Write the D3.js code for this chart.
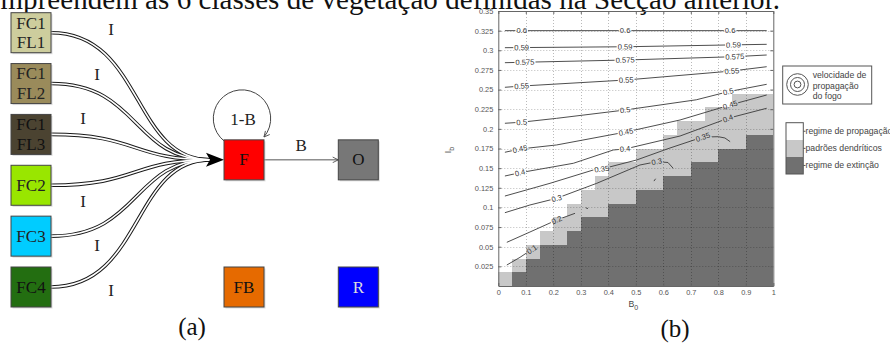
<!DOCTYPE html>
<html><head><meta charset="utf-8">
<script src="https://cdn.jsdelivr.net/npm/d3@7"></script>
<style>body{margin:0;background:#fff;} svg{display:block;}</style>
</head><body>
<script>
// ---------------- DATA ----------------
const topCaption = "compreendem as 6 classes de vegetação definidas na Secção anterior.";

// (a) state diagram
const nodeLines  = [["FC1","FL1"],["FC1","FL2"],["FC1","FL3"],["FC2"],["FC3"],["FC4"],["F"],["O"],["FB"],["R"]];
const nodeCols   = [0,0,0,0,0,0,1,2,1,2];
const nodeRows   = [0,1,2,3,4,5,2.5,2.5,5,5];
const nodeFill   = ["#cdcd9d","#9a8b5b","#4b4331","#99e600","#00ccff","#236e11","#ff0000","#777777","#e66a00","#0000ff"];
const nodeInk    = ["#222","#222","#111","#222","#222","#111","#111","#111","#111","#dddddd"];
const edgeSources = [0,1,2,3,4,5];
const edgeLabel   = "I";
const loopLabel   = "1-B";
const transLabel  = "B";

// (b) regime map: 20 columns of width 0.05 in B0, rows of 0.0175
const colWidth = 0.05, rowHeight = 0.0175;
const extinctionRows = [0,1,2,3,3,4,5,5,6,6,7,7,8,8,9,9,10,10,11,11];
const dendriticRows  = [1,2,3,4,5,6,7,8,9,9,10,10,11,12,12,13,13,14,14,14];

const xTicks = [0,0.1,0.2,0.3,0.4,0.5,0.6,0.7,0.8,0.9,1];
const xTickLabels = ["0","0.1","0.2","0.3","0.4","0.5","0.6","0.7","0.8","0.9","1"];
const yTicks = [0.025,0.05,0.075,0.1,0.125,0.15,0.175,0.2,0.225,0.25,0.275,0.3,0.325,0.35];
const yTickLabels = ["0.025","0.05","0.075","0.1","0.125","0.15","0.175","0.2","0.225","0.25","0.275","0.3","0.325","0.35"];

// contour lines of fire propagation speed
const contourLevels = ["0.1","0.2","0.3","0.35","0.4","0.45","0.5","0.55","0.575","0.59","0.6"];
const contourPoints = [
  [[0.031,0.0267],[0.079,0.0365],[0.122,0.0465]],
  [[0.031,0.0556],[0.115,0.0687],[0.212,0.084],[0.279,0.0925]],
  [[0.024,0.0933],[0.115,0.1031],[0.212,0.1116],[0.358,0.1307],[0.515,0.154],[0.576,0.1582],[0.617,0.1572],[0.636,0.1498]],
  [[0.024,0.1145],[0.188,0.1307],[0.345,0.1476],[0.376,0.1489],[0.503,0.1604],[0.624,0.1756],[0.744,0.1896],[0.8,0.19],[0.824,0.1884],[0.843,0.1837]],
  [[0.024,0.14],[0.079,0.1442],[0.273,0.1562],[0.418,0.1731],[0.461,0.1744],[0.661,0.1909],[0.835,0.2134],[0.976,0.2262]],
  [[0.024,0.1702],[0.079,0.1744],[0.212,0.1795],[0.464,0.196],[0.661,0.2113],[0.843,0.2304],[0.976,0.2431]],
  [[0.024,0.2071],[0.085,0.2085],[0.212,0.2134],[0.461,0.224],[0.72,0.237],[0.836,0.2473],[0.976,0.2567]],
  [[0.024,0.2529],[0.085,0.2545],[0.465,0.2622],[0.849,0.2736],[0.976,0.2791]],
  [[0.024,0.2842],[0.097,0.2848],[0.461,0.2876],[0.855,0.2918],[0.976,0.294]],
  [[0.024,0.3033],[0.461,0.3045],[0.976,0.3076]],
  [[0.024,0.325],[0.976,0.325]]
];
const contourLabelAt = [
  [0.122],[0.212],[0.212,0.576],[0.376,0.744],[0.079,0.461,0.835],[0.079,0.464,0.843],
  [0.085,0.461,0.836],[0.085,0.465,0.849],[0.097,0.461,0.86],[0.085,0.461,0.855],[0.085,0.461,0.843]
];
const contourFragments = [
  [[0.318,0.0995],[0.326,0.0985]],
  [[0.566,0.1335],[0.572,0.1365]]
];

const legendSpeed = ["velocidade de","propagação","do fogo"];
const legendRegimes = ["regime de propagação","padrões dendríticos","regime de extinção"];
const regimeColors = ["#ffffff","#c8c8c8","#707070"];

// ---------------- DRAW ----------------
const W = 890, H = 343;
const serif = "'Liberation Serif','Times New Roman',serif";
const sans = "'Liberation Sans',Arial,sans-serif";
const svg = d3.select("body").append("svg").attr("width", W).attr("height", H);
svg.append("rect").attr("width", W).attr("height", H).attr("fill", "#fff");
const defs = svg.append("defs");

// caption line (cut at top)
svg.append("text").attr("x", -27).attr("y", 8.5)
  .attr("font-family", serif).attr("font-size", 29).attr("fill", "#111")
  .attr("textLength", 807).attr("lengthAdjust", "spacing")
  .text(topCaption);

// ----- (a) -----
const gA = svg.append("g");
const colX = d3.scaleOrdinal().domain([0,1,2]).range([31, 244, 358.3]);
const rowY = d3.scaleLinear().domain([0,5]).range([32.7, 287]);
const box = 40;

defs.append("marker").attr("id","openArrow").attr("viewBox","0 -5 10 10")
  .attr("refX",9).attr("refY",0).attr("markerWidth",7).attr("markerHeight",7)
  .attr("markerUnits","userSpaceOnUse").attr("orient","auto")
  .append("path").attr("d","M1,-4L9,0L1,4").attr("fill","none").attr("stroke","#444").attr("stroke-width",1.2);

const fX = colX(1), fY = rowY(2.5);
function edgePath(r){
  const k = Math.abs(r - 2.5) - 0.5;
  const x0 = colX(0) + box/2, y0 = rowY(r);
  const x3 = fX - box/2 - 14, y3 = fY;
  const p = d3.path();
  p.moveTo(x0, y0);
  p.bezierCurveTo(138 + 2.5*k, y0, 132, y3, x3, y3);
  return p.toString();
}
const edges = gA.append("g");
edges.selectAll("path.outer").data(edgeSources).join("path").attr("class","outer")
  .attr("d", i => edgePath(nodeRows[i])).attr("fill","none").attr("stroke","#1a1a1a").attr("stroke-width",3.6);
edges.selectAll("path.inner").data(edgeSources).join("path").attr("class","inner")
  .attr("d", i => edgePath(nodeRows[i])).attr("fill","none").attr("stroke","#fff").attr("stroke-width",1.6);
// big arrowhead into F
gA.append("path")
  .attr("d", `M${fX-box/2-18},${fY-7}L${fX-box/2},${fY}L${fX-box/2-18},${fY+7}L${fX-box/2-14},${fY}Z`)
  .attr("fill","#000");
// "I" labels
gA.selectAll("text.elab").data(edgeSources).join("text").attr("class","elab")
  .attr("x", i => { const k = Math.abs(nodeRows[i]-2.5)-0.5; return 83 + 14*k; })
  .attr("y", i => { const r = nodeRows[i]; const k = Math.abs(r-2.5)-0.5; return rowY(r) + Math.sign(r-2.5)*(16 - 6.5*k) + 5.5; })
  .attr("text-anchor","middle").attr("font-family",serif).attr("font-size",17).attr("fill","#222")
  .text(edgeLabel);

// self loop on F
{
  const cx = fX - 2, cy = fY - 41.3, r = 28.7;
  const p = d3.path();
  p.arc(cx, cy, r, 128*Math.PI/180, 400*Math.PI/180, false);
  gA.append("path").attr("d", p.toString()).attr("fill","none").attr("stroke","#444").attr("stroke-width",1)
    .attr("marker-end","url(#openArrow)");
  gA.append("text").attr("x", cx + 1).attr("y", cy + 6.5).attr("text-anchor","middle")
    .attr("font-family",serif).attr("font-size",17).attr("fill","#222").text(loopLabel);
}
// F -> O
gA.append("line").attr("x1", fX + box/2).attr("y1", fY).attr("x2", colX(2) - box/2).attr("y2", fY)
  .attr("stroke","#555").attr("stroke-width",1).attr("marker-end","url(#openArrow)");
gA.append("text").attr("x", (fX + colX(2))/2).attr("y", fY - 9).attr("text-anchor","middle")
  .attr("font-family",serif).attr("font-size",17).attr("fill","#222").text(transLabel);

// nodes
const nodes = gA.selectAll("g.node").data(nodeLines.map((l,i)=>i)).join("g").attr("class","node")
  .attr("transform", i => `translate(${colX(nodeCols[i])},${rowY(nodeRows[i])})`);
nodes.append("rect").attr("x",-box/2+1.5).attr("y",-box/2+1.5).attr("width",box).attr("height",box)
  .attr("fill","#bbb").attr("opacity",0.5);
nodes.append("rect").attr("x",-box/2).attr("y",-box/2).attr("width",box).attr("height",box)
  .attr("fill", i => nodeFill[i]).attr("stroke","#444").attr("stroke-width",1);
nodes.each(function(i){
  const g = d3.select(this);
  const lines = nodeLines[i];
  lines.forEach((t, j) => {
    const off = lines.length === 1 ? 0 : (j === 0 ? -9.7 : 9.7);
    g.append("text").attr("x", 0).attr("y", off + 5.6).attr("text-anchor","middle")
      .attr("font-family", serif).attr("font-size", 17).attr("fill", nodeInk[i]).text(t);
  });
});
svg.append("text").attr("x",192).attr("y",335).attr("text-anchor","middle")
  .attr("font-family",serif).attr("font-size",25).attr("fill","#111").text("(a)");

// ----- (b) -----
const x = d3.scaleLinear().domain([0,1]).range([498.3, 773.3]);
const y = d3.scaleLinear().domain([0,0.35]).range([286, 11]);
const gB = svg.append("g");

const cells = [];
extinctionRows.forEach((n, i) => {
  const b0 = i*colWidth, b1 = (i+1)*colWidth;
  if (n > 0) cells.push({b0, b1, lo: 0, hi: n*rowHeight, c: regimeColors[2]});
  cells.push({b0, b1, lo: n*rowHeight, hi: dendriticRows[i]*rowHeight, c: regimeColors[1]});
});
gB.append("g").attr("shape-rendering","crispEdges").selectAll("rect").data(cells).join("rect")
  .attr("x", d => x(d.b0)).attr("width", d => x(d.b1) - x(d.b0))
  .attr("y", d => y(d.hi)).attr("height", d => y(d.lo) - y(d.hi))
  .attr("fill", d => d.c);

// grid
const grid = gB.append("g").attr("stroke","rgba(0,0,0,0.27)").attr("stroke-width",1).attr("stroke-dasharray","1,2");
grid.selectAll("line.vx").data(xTicks.slice(1,-1)).join("line").attr("class","vx")
  .attr("x1", d => Math.round(x(d))+0.5).attr("x2", d => Math.round(x(d))+0.5).attr("y1", y(0.35)).attr("y2", y(0));
grid.selectAll("line.hy").data(yTicks.slice(0,-1)).join("line").attr("class","hy")
  .attr("y1", d => Math.round(y(d))+0.5).attr("y2", d => Math.round(y(d))+0.5).attr("x1", x(0)).attr("x2", x(1));

// contours
const lineGen = d3.line().x(d => x(d[0])).y(d => y(d[1]));
function labelPos(pts, b){
  for (let i = 0; i < pts.length-1; i++){
    const a = pts[i], c = pts[i+1];
    if (b >= a[0] && b <= c[0]){
      const t = (b - a[0])/((c[0]-a[0])||1);
      const ang = Math.atan2(y(c[1])-y(a[1]), x(c[0])-x(a[0]))*180/Math.PI;
      return [x(b), y(a[1] + t*(c[1]-a[1])), ang];
    }
  }
  const a = pts[pts.length-2], c = pts[pts.length-1];
  return [x(c[0]), y(c[1]), Math.atan2(y(c[1])-y(a[1]), x(c[0])-x(a[0]))*180/Math.PI];
}
const mask = defs.append("mask").attr("id","cmask").attr("maskUnits","userSpaceOnUse")
  .attr("x",0).attr("y",0).attr("width",W).attr("height",H);
mask.append("rect").attr("width",W).attr("height",H).attr("fill","#fff");

const labels = [];
contourLevels.forEach((lv, i) => contourLabelAt[i].forEach(b => {
  const [px, py, ang] = labelPos(contourPoints[i], b);
  labels.push({lv, px, py, ang});
}));

const cg = gB.append("g").attr("mask","url(#cmask)").attr("fill","none").attr("stroke","#3a3a3a").attr("stroke-width",0.9);
cg.selectAll("path.c").data(contourPoints).join("path").attr("class","c").attr("d", lineGen);
cg.selectAll("path.f").data(contourFragments).join("path").attr("class","f").attr("d", lineGen);

const lt = gB.append("g").selectAll("text").data(labels).join("text")
  .attr("transform", d => `translate(${d.px},${d.py}) rotate(${d.ang})`)
  .attr("text-anchor","middle").attr("dy","0.35em")
  .attr("font-family",sans).attr("font-size",7.6).attr("fill","#333")
  .text(d => d.lv);
lt.each(function(d){
  const bb = this.getBBox();
  mask.append("rect").attr("transform", `translate(${d.px},${d.py}) rotate(${d.ang})`)
    .attr("x", bb.x - 1).attr("y", bb.y).attr("width", bb.width + 2).attr("height", bb.height)
    .attr("fill","#000");
});

// axes
const axColor = "#666";
const axB = gB.append("g").attr("transform",`translate(0,${y(0)})`)
  .call(d3.axisBottom(x).tickValues(xTicks).tickFormat((d,i)=>xTickLabels[i]).tickSizeInner(-3).tickSizeOuter(0).tickPadding(4));
const axL = gB.append("g").attr("transform",`translate(${x(0)},0)`)
  .call(d3.axisLeft(y).tickValues(yTicks).tickFormat((d,i)=>yTickLabels[i]).tickSizeInner(-3).tickSizeOuter(0).tickPadding(5));
const axT = gB.append("g").attr("transform",`translate(0,${y(0.35)})`)
  .call(d3.axisTop(x).tickValues(xTicks).tickFormat("").tickSizeInner(-3).tickSizeOuter(0));
const axR = gB.append("g").attr("transform",`translate(${x(1)},0)`)
  .call(d3.axisRight(y).tickValues(yTicks).tickFormat("").tickSizeInner(-3).tickSizeOuter(0));
[axB, axL, axT, axR].forEach(a => {
  a.select(".domain").attr("stroke", axColor);
  a.selectAll(".tick line").attr("stroke", axColor);
  a.selectAll(".tick text").attr("fill","#555").attr("font-family",sans).attr("font-size",7.4);
});

// axis titles
gB.append("text").attr("x", 633.3).attr("y", 307).attr("text-anchor","middle")
  .attr("font-family",sans).attr("font-size",8.7).attr("fill","#444")
  .call(t => { t.append("tspan").text("B"); t.append("tspan").attr("dy",2.5).attr("font-size",7).text("0"); });
gB.append("text").attr("transform","translate(451,150) rotate(-90)").attr("text-anchor","middle")
  .attr("font-family",sans).attr("font-size",8.7).attr("fill","#444")
  .call(t => { t.append("tspan").text("I"); t.append("tspan").attr("dy",2.5).attr("font-size",7).text("b"); });

// legend: speed
const lg1 = svg.append("g");
lg1.append("rect").attr("x",782.7).attr("y",66).attr("width",89).attr("height",38)
  .attr("fill","#fff").attr("stroke","#555").attr("stroke-width",1);
lg1.selectAll("circle").data([10.8, 7, 3.4]).join("circle")
  .attr("cx",797.5).attr("cy",84.5).attr("r", d => d).attr("fill","none").attr("stroke","#555").attr("stroke-width",1);
lg1.selectAll("text").data(legendSpeed).join("text")
  .attr("x",812.7).attr("y",(d,i)=>78 + i*10.6)
  .attr("font-family",sans).attr("font-size",8.7).attr("fill","#444").text(d=>d);

// legend: regimes colour bar
const lg2 = svg.append("g");
const barY = d3.scaleBand().domain(d3.range(3)).range([122.7, 174]);
lg2.selectAll("rect.sw").data(regimeColors).join("rect").attr("class","sw")
  .attr("x",786).attr("y",(d,i)=>barY(i)).attr("width",17.3).attr("height",barY.bandwidth())
  .attr("fill",d=>d).attr("shape-rendering","crispEdges");
lg2.append("rect").attr("x",786).attr("y",122.7).attr("width",17.3).attr("height",51.3)
  .attr("fill","none").attr("stroke","#555").attr("stroke-width",1);
lg2.selectAll("line").data(legendRegimes).join("line")
  .attr("x1",803.3).attr("x2",805.5).attr("y1",(d,i)=>barY(i)+barY.bandwidth()/2).attr("y2",(d,i)=>barY(i)+barY.bandwidth()/2)
  .attr("stroke","#555");
lg2.selectAll("text").data(legendRegimes).join("text")
  .attr("x",805.5).attr("y",(d,i)=>barY(i)+barY.bandwidth()/2+3)
  .attr("font-family",sans).attr("font-size",8.7).attr("fill","#444").text(d=>d);

svg.append("text").attr("x",675).attr("y",337).attr("text-anchor","middle")
  .attr("font-family",serif).attr("font-size",25).attr("fill","#111").text("(b)");
</script>
</body></html>
